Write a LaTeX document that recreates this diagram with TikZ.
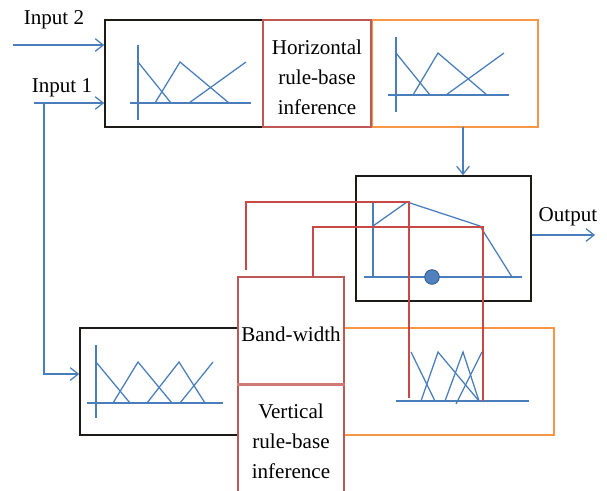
\documentclass[tikz,border=0pt]{standalone}
\usepackage{fontspec}
\setmainfont{Liberation Serif}
\usetikzlibrary{fit,arrows.meta}
\definecolor{mfblue}{RGB}{74,126,187}
\definecolor{dotfill}{RGB}{79,129,189}
\definecolor{dotedge}{RGB}{52,88,132}
\definecolor{redln}{RGB}{200,72,70}
\definecolor{redbox}{RGB}{190,88,84}
\definecolor{redthick}{RGB}{208,122,120}
\definecolor{orangebox}{RGB}{247,150,70}
\definecolor{darkbox}{RGB}{30,26,24}
\tikzset{
  lbl/.style={font=\fontsize{15.8}{22.5}\selectfont, inner sep=0pt, text=black},
  boxtext/.style={font=\fontsize{15.8}{22.5}\selectfont, inner sep=0pt, align=center, text=black},
  blackbox/.style={draw=darkbox, line width=1.2pt, inner sep=0pt},
  redboxst/.style={draw=redbox, line width=1.2pt, inner sep=0pt},
  orbox/.style={draw=orangebox, line width=1.2pt, inner sep=0pt},
  mf/.style={draw=mfblue, line width=0.95pt},
  arr/.style={draw=mfblue, line width=0.95pt, -{Straight Barb[length=6pt,width=9.5pt,line width=0.95pt]}},
  redcon/.style={draw=redln, line width=0.95pt},
}
\begin{document}
\begin{tikzpicture}[x=0.75pt,y=-0.75pt]
\useasboundingbox (0,0) rectangle (607,490);
% ---------- boxes ----------
\node[orbox, fit={(372,20) (538,127)}] (hout) {};
\node[blackbox, fit={(105,20) (263,127)}] (hin) {};
\node[redboxst, fit={(263,20) (371,127)}] (hrule) {};
\node[blackbox, fit={(356,176) (531,301)}] (outb) {};
\node[orbox, fit={(344,328) (554,435)}] (vout) {};
\node[blackbox, fit={(80,328) (238,435)}] (vin) {};
\node[redboxst, fit={(238,277) (344,384)}] (bw) {};
\node[redboxst, fit={(238,384) (344,492)}] (vrule) {};
\draw[draw=redthick, line width=2.3pt] (bw.south west) -- (bw.south east);
% ---------- box texts ----------
\node[boxtext] (hrulet) at ([yshift=-2.5pt]hrule.center) {Horizontal\\rule-base\\inference};
\node[boxtext] (bwt) at ([yshift=-2.5pt]bw.center) {Band-width};
\node[boxtext] (vrulet) at ([yshift=-2.5pt]vrule.center) {Vertical\\rule-base\\inference};
% ---------- labels ----------
\node[lbl, anchor=base] (in2lbl) at (54,24) {Input 2};
\node[lbl, anchor=base] (in1lbl) at (62,92) {Input 1};
\node[lbl, anchor=base] (outlbl) at (568,221.5) {Output};
% ---------- input / output arrows ----------
\coordinate (in2s) at (13,45);
\coordinate (in1s) at (34,103);
\coordinate (br) at (44,103);
\coordinate (outs) at (595,235);
\draw[arr] (in2s) -- (in2s -| hin.west);
\draw[arr] (in1s) -- (in1s -| hin.west);
\draw[arr] (br) -- (44,374) -- (44,374 -| vin.west);
\draw[arr] (outb.east |- outs) -- (outs);
\coordinate (hdown) at (463,127);
\draw[arr] (hdown) -- (hdown |- outb.north);
% ---------- MFs top-left ----------
\draw[mf] (138,45) -- (138,120);
\draw[mf] (130,103) -- (251,103);
\draw[mf] (138,62) -- (171,103);
\draw[mf] (155,103) -- (180,62) -- (229,103);
\draw[mf] (189,103) -- (246,62);
% ---------- MFs top-right ----------
\draw[mf] (396,37) -- (396,112);
\draw[mf] (388,95) -- (509,95);
\draw[mf] (396,53) -- (430,95);
\draw[mf] (413,95) -- (438,53) -- (487,95);
\draw[mf] (446,95) -- (504,53);
% ---------- MFs lower-left ----------
\draw[mf] (96,345) -- (96,418);
\draw[mf] (87,403) -- (223,403);
\draw[mf] (96,362) -- (130,403);
\draw[mf] (113,403) -- (138,362) -- (172,403);
\draw[mf] (147,403) -- (179,362) -- (205,403);
\draw[mf] (180,403) -- (213,362);
% ---------- MFs lower-right ----------
\draw[mf] (396,401) -- (529,401);
\draw[mf] (411,352) -- (435,401);
\draw[mf] (421,401) -- (438,352) -- (479,401);
\draw[mf] (445,401) -- (463,352) -- (479,401);
\draw[mf] (456,404) -- (482,352);
% ---------- output shape ----------
\draw[mf] (373,202) -- (373,277);
\draw[mf] (364,277) -- (522,277);
\draw[mf] (373,226) -- (407,202) -- (480,226) -- (512,277);
% ---------- red connectors ----------
\coordinate (r1s) at (246,270);
\coordinate (r2s) at (313,277);
\draw[redcon] (r1s) -- (246,202) -- (409,202) -- (409,398);
\draw[redcon] (r2s) -- (313,227) -- (483,227) -- (483,401);
% ---------- dot ----------
\node[circle, fill=dotfill, draw=dotedge, line width=0.6pt, minimum size=11pt, inner sep=0pt] (dot) at (432,277) {};
\end{tikzpicture}
\end{document}
